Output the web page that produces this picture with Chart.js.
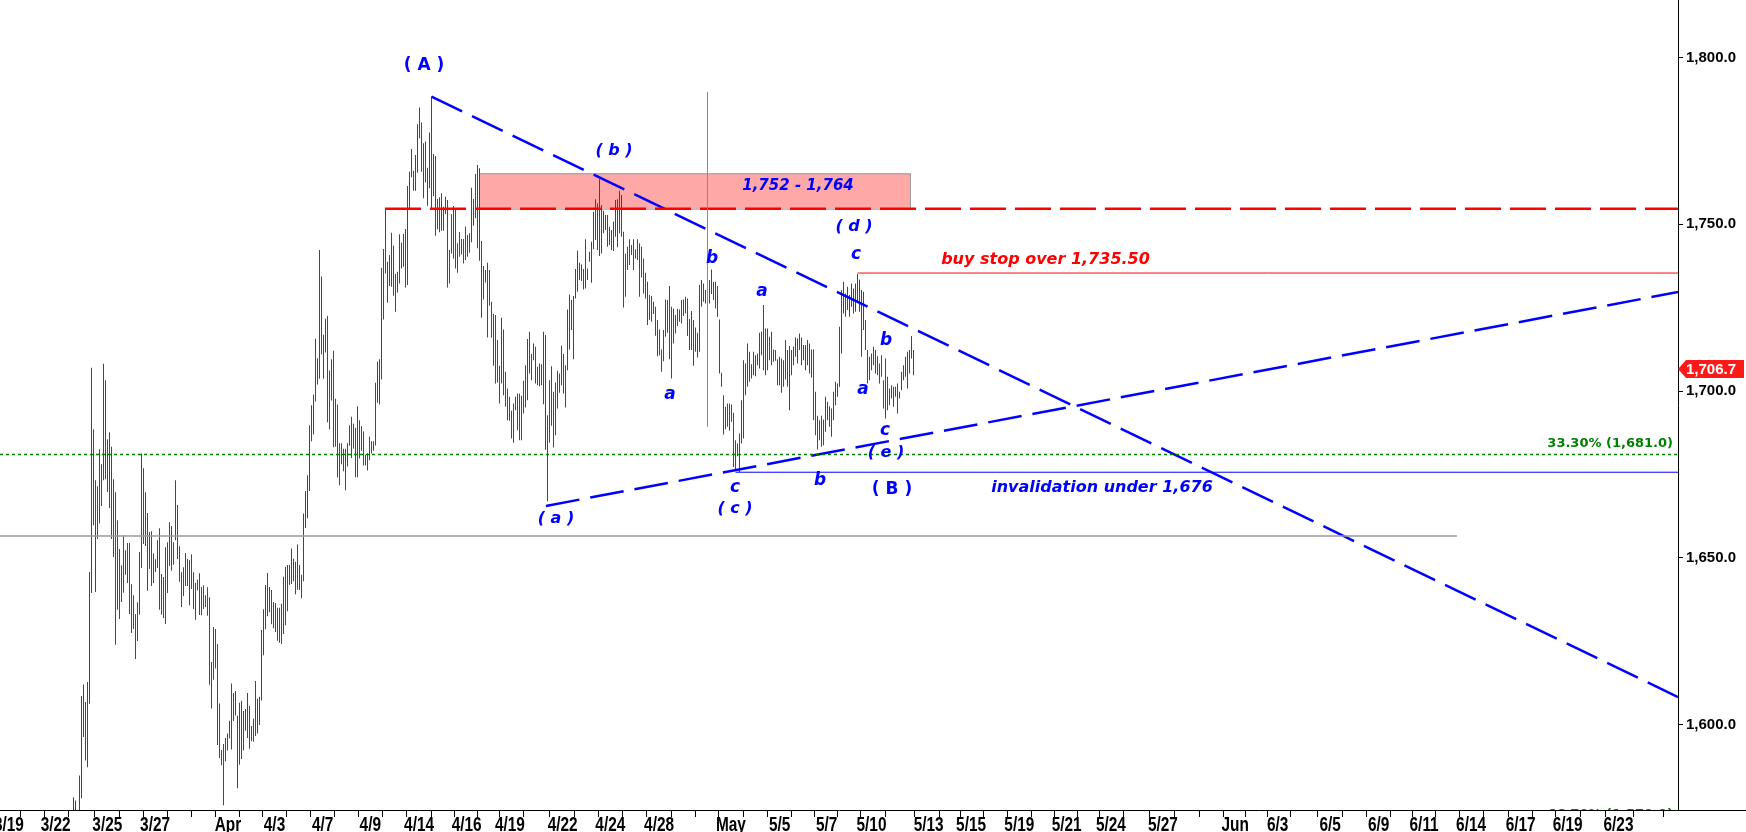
<!DOCTYPE html>
<html>
<head>
<meta charset="utf-8">
<script src="https://cdn.jsdelivr.net/npm/chart.js@4.4.1/dist/chart.umd.min.js"></script>
<style>
html, body { margin: 0; padding: 0; background: #fff; }
</style>
</head>
<body>
<canvas id="chart" width="1746" height="832"></canvas>
<script>
// bar highs / lows, one bar per 2h session
const highs = [
  1578.3,1577.3,1574.0,1584.8,1608.6,1612.1,1606.8,1612.8,1645.8,1707.0,
  1688.6,1673.3,1671.5,1682.6,1678.1,1708.2,1703.3,1685.6,1687.7,1683.3,
  1673.6,1669.7,1661.3,1652.7,1647.8,1656.8,1652.3,1654.5,1654.5,1642.1,
  1638.8,1633.2,1636.7,1651.8,1681.3,1676.9,1669.7,1663.5,1657.8,1658.0,
  1651.3,1649.6,1655.3,1658.9,1645.2,1644.3,1653.2,1654.7,1660.7,1659.6,
  1654.7,1673.3,1665.9,1653.5,1645.7,1647.2,1651.5,1649.7,1649.3,1651.1,
  1645.7,1642.6,1643.5,1645.4,1641.3,1641.8,1638.8,1641.2,1638.2,
  1618.8,1629.3,1628.7,1624.2,1606.4,1592.4,1594.2,1596.0,1597.4,1601.2,1612.4,
  1609.5,1610.1,1602.7,1606.6,1607.2,1604.1,1604.7,1609.5,1605.6,1599.6,1601.9,1613.1,1607.8,1608.4,
  1628.4,1634.6,1641.9,1645.5,1641.3,1640.4,1636.8,1636.5,1635.1,1635.1,1636.3,1644.4,1647.3,1647.9,1647.9,1652.8,
  1649.8,1648.9,1654.0,1647.9,1645.0,1663.3,1670.1,1674.8,1689.8,1695.8,1698.9,1715.7,1709.9,1742.3,1734.4,1716.9,1721.7,
  1722.5,1706.2,1709.6,1712.1,1697.7,1696.0,1684.4,1684.4,1682.7,1682.7,1684.4,1689.8,1692.3,1690.2,
  1689.0,1695.5,1691.3,1689.5,1687.9,1680.9,1681.4,1686.4,1685.0,1685.0,
  1702.5,1708.8,1709.6,1737.0,1742.6,1754.3,1738.8,1740.8,1747.5,1743.6,
  1735.1,1735.8,1747.0,1744.5,1747.1,1748.6,1761.5,1765.8,1772.6,1766.1,
  1770.8,1780.0,1785.0,1780.5,1774.3,1774.8,1767.0,1777.5,1788.3,1771.1,
  1770.5,1757.6,1758.1,1759.3,1755.3,1758.3,1757.3,1742.3,1753.0,1755.5,1754.5,1744.3,1747.7,1745.6,1745.6,1749.3,1746.8,1747.3,
  1761.0,1757.6,1765.1,1767.8,1766.8,
  1745.0,1737.5,1736.3,1738.5,1736.3,1726.8,1723.1,1722.8,1715.3,1707.6,
  1722.0,1718.5,1705.8,1700.8,1698.3,1694.1,1696.3,1698.3,1699.3,1699.3,1698.6,1703.1,
  1707.8,1715.6,1717.8,1711.1,1714.3,1713.3,1707.3,1708.3,1708.1,1717.8,1716.8,
  1692.8,1703.3,1707.5,1699.8,1702.6,1706.1,
  1705.3,1713.6,1711.1,1707.8,1724.5,1729.0,1727.3,1728.5,1736.6,1742.1,
  1738.5,1738.0,1736.6,1745.5,1736.8,1741.8,1744.8,1753.8,1757.5,1756.3,
  1763.5,1755.8,1754.1,1752.8,1752.8,1749.3,1748.3,1750.8,1757.3,1757.5,1760.1,1758.8,
  1747.8,1741.3,1743.3,1745.5,1743.8,1745.5,1742.5,1745.5,1744.3,1743.3,1739.8,
  1735.5,1732.8,1728.8,1728.5,1726.8,1725.3,1721.3,1718.5,1712.5,1718.3,1727.5,1727.3,1731.5,1725.3,1724.8,1722.8,1724.6,1724.5,
  1727.3,1727.5,1728.3,1727.8,1721.6,1724.0,1721.3,1719.1,1717.5,1731.8,1733.3,1732.3,1730.3,1729.8,1733.3,1736.5,1732.8,1732.8,1731.5,
  1721.5,1705.5,1698.8,1695.3,1696.3,1696.3,1696.0,1693.5,1685.3,1684.3,1687.3,
  1697.3,1709.3,1708.3,1714.3,1711.8,1708.1,1711.8,1710.8,1711.3,1717.5,1717.8,1725.8,1718.8,1718.8,1716.3,1717.8,1712.5,1712.3,
  1709.6,1710.3,1709.8,1709.3,1715.3,1712.3,1713.5,
  1712.3,1713.3,1716.1,1715.8,1717.3,1716.1,1713.8,1713.8,1715.3,1714.3,1712.5,
  1712.5,1699.8,1692.6,1691.3,1692.6,1691.5,1698.3,1696.8,1695.5,1694.8,
  1699.8,1702.8,1702.3,1719.3,1730.3,1732.8,1729.3,1731.3,1728.8,1732.3,1730.8,1732.3,1735.1,1733.5,1730.3,1729.8,
  1721.3,1712.3,1710.3,1711.3,1713.3,1712.3,1710.5,1708.3,1710.8,1703.3,1709.8,1704.3,1700.8,1701.8,1701.3,1701.3,1702.3,1699.8,
  1705.8,1707.8,1710.3,1711.8,1712.3,1716.5,1712.3
]

const lows = [
  1572.0,1572.0,1566.0,1571.0,1578.0,1596.3,1589.3,1587.3,1606.3,1639.5,
  1659.8,1639.8,1655.7,1660.3,1665.6,1673.3,1673.6,1669.8,1665.0,1655.7,
  1650.3,1624.0,1634.5,1631.7,1636.8,1639.6,1645.0,1642.5,1633.2,1627.5,
  1628.7,1619.7,1625.1,1633.0,1647.0,1654.2,1653.6,1640.2,1646.7,1641.6,
  1642.5,1645.8,1647.0,1634.5,1633.0,1632.0,1630.2,1639.5,1647.6,1646.2,
  1648.0,1655.3,1649.7,1642.9,1635.3,1638.6,1641.6,1641.6,1635.8,1640.7,
  1634.7,1631.5,1640.3,1632.9,1632.8,1634.7,1635.3,1632.7,1612.0,
  1604.9,1613.5,1616.9,1593.9,1590.0,1587.9,1575.9,1589.1,1592.3,1595.9,1592.6,
  1601.1,1602.8,1581.0,1588.0,1589.7,1592.3,1598.2,1596.0,1592.8,1595.1,1594.9,1596.6,1597.4,1599.9,
  1607.3,1620.8,1628.6,1632.5,1633.7,1630.1,1628.9,1627.8,1625.2,1624.6,1624.2,1627.2,1629.8,1634.0,1641.9,1642.2,
  1643.0,1639.1,1640.5,1640.4,1637.9,1643.0,1659.0,1661.9,1670.1,1685.0,1687.0,1696.9,1702.0,1703.7,1711.0,1703.7,1711.6,
  1690.7,1688.6,1697.2,1683.2,1683.3,1674.2,1671.8,1678.1,1676.0,1670.3,1677.4,1683.6,1680.0,1682.8,
  1674.2,1674.2,1679.8,1682.1,1677.7,1677.7,1676.2,1679.3,1681.3,1682.1,
  1683.7,1696.5,1696.0,1703.5,1721.5,1735.3,1726.5,1731.5,1731.3,1728.6,
  1723.8,1729.6,1732.3,1736.8,1737.3,1731.1,1731.8,1754.6,1764.1,1760.1,
  1760.1,1765.5,1775.8,1765.8,1757.8,1762.6,1755.6,1760.8,1754.8,1758.5,
  1746.6,1748.5,1747.6,1748.1,1748.1,1753.1,1731.1,1732.3,1741.3,1739.8,1736.8,1735.5,1740.3,1741.0,1738.3,1739.3,1740.3,1741.5,
  1744.6,1749.6,1751.8,1742.8,1739.1,
  1722.0,1727.5,1732.6,1716.1,1725.6,1716.0,1707.6,1702.3,1702.6,1696.3,
  1702.3,1698.8,1695.3,1691.3,1691.1,1685.8,1684.5,1694.3,1688.3,1685.3,1685.3,1693.3,
  1695.1,1697.3,1705.3,1703.3,1709.3,1702.3,1701.8,1701.5,1701.8,1696.1,1682.4,
  1667.0,1684.5,1689.6,1683.1,1686.8,1694.8,
  1699.5,1701.8,1699.3,1695.1,1706.3,1712.5,1718.3,1709.6,1727.8,1729.8,
  1733.3,1733.0,1730.5,1730.8,1733.3,1738.8,1732.5,1742.5,1745.3,1742.3,
  1740.5,1741.3,1747.3,1748.3,1743.3,1743.8,1742.3,1742.0,1746.3,1743.1,1747.3,1746.3,
  1725.1,1728.3,1736.3,1737.8,1740.8,1736.3,1739.8,1739.3,1728.3,1734.1,1729.3,
  1727.8,1719.8,1721.3,1720.8,1723.1,1716.6,1710.5,1710.8,1705.8,1709.0,1716.3,1717.5,1709.6,1703.8,1714.3,1717.3,1719.5,1720.8,
  1720.3,1722.5,1723.3,1716.5,1712.3,1712.3,1707.6,1711.8,1710.1,1711.8,1725.3,1726.8,1726.3,1723.3,1726.3,1729.1,1727.3,1724.8,1722.3,
  1705.3,1701.3,1687.0,1688.6,1689.3,1688.1,1690.8,1677.3,1676.3,1680.5,1675.8,
  1684.3,1685.8,1698.8,1701.3,1702.8,1703.8,1704.8,1704.5,1707.8,1706.8,1710.8,1706.3,1704.8,1706.3,1709.3,1707.8,1708.8,1709.1,
  1701.8,1701.8,1699.5,1701.3,1703.5,1701.3,1694.3,
  1704.8,1707.8,1710.3,1708.3,1712.3,1707.8,1709.3,1706.3,1707.8,1705.3,1704.1,
  1691.3,1686.8,1682.5,1685.3,1683.3,1683.8,1687.8,1691.3,1689.3,1686.3,
  1691.3,1695.8,1698.3,1701.3,1711.3,1723.3,1722.3,1724.3,1722.3,1725.3,1723.3,1723.8,1726.8,1723.8,1710.3,1718.3,
  1712.3,1702.3,1703.3,1706.3,1707.8,1705.3,1704.8,1702.3,1704.3,1694.8,1691.8,1694.3,1695.8,1697.8,1695.3,1698.3,1693.3,1697.8,
  1700.3,1703.3,1704.3,1700.8,1705.3,1709.8,1704.8
]

// up (G) / down (R) bars, as runs
const barRuns = [
  'G2','R1','G18','R12','G12','R6','G2','R16',
  'R11','G47','R14',
  'R10','G30','R18','G5','R10',
  'R12','G11','R6','G32','R11',
  'R18','G19','R11','G18','R7',
  'G11','R10','G16','R18','G7'
]

const lastPrice = 1706.7
const priceTicks = [1600, 1650, 1700, 1750, 1800]

// date labels and where they sit, in bar units
const dateLabels = ['3/19','3/22','3/25','3/27','Apr','4/3','4/7','4/9','4/14','4/16','4/19','4/22','4/24','4/28',
  'May','5/5','5/7','5/10','5/13','5/15','5/19','5/21','5/24','5/27','Jun','6/3','6/5','6/9','6/11','6/14','6/17','6/19','6/23']
const datePos = [-32.3,-8.9,16.9,40.8,77.2,100.5,124.6,148.4,172.8,196.6,218.2,244.6,268.4,292.8,
  328.7,353.1,376.6,399.0,427.6,448.8,472.9,496.6,518.7,544.7,580.8,602.1,628.3,652.6,675.3,698.8,723.6,747.1,772.5]

// trend lines and levels  [barIndex, price]
const downTrend = [[179, 1788.3], [802.25, 1608.3]]
const upTrend = [[236.25, 1665.6], [802.25, 1729.7]]
const resistance = [155.75, 1754.7]
const buyStop = [392, 1735.4]
const invalidation = [331, 1675.7]
const fib33 = 1681.0
const fib67 = 1570.0
const grayLevel = [691.75, 1656.6]
const grayMark = [317, 1689.3, 1789.7]
const zoneX = [202.75, 418.25]
const zoneY = [1754.7, 1765.3]

const waveText = ['( A )','( b )','( d )','b','a','c','b','a','a','c','( e )','( B )','b','c','( c )','( a )']
const waveX = [175.25, 270.25, 390.25, 319.25, 344.25, 391.25, 406.25, 298.25, 394.75, 405.75, 406.25, 409.25, 373.25, 330.75, 330.75, 241.25]
const waveY = [1797.5, 1772.0, 1749.2, 1739.6, 1729.7, 1740.9, 1715.3, 1699.1, 1700.6, 1688.3, 1681.4, 1670.6, 1673.3, 1671.2, 1664.7, 1661.8]

const xMin = -36.75, xMax = 802.25
const yMin = 1574.45, yMax = 1817.25

const colors = []
barRuns.forEach(r => {
  const n = parseInt(r.slice(1))
  for (let i = 0; i < n; i++) colors.push(r[0] === 'G' ? '#007800' : '#f00000')
})
const bars = highs.map((h, i) => ({ x: i, y: [lows[i], h] }))

// x ticks: one at each label plus the days in between
const xTicks = []
datePos.forEach((p, i) => {
  xTicks.push(p)
  const next = i < datePos.length - 1 ? datePos[i + 1] : xMax
  const n = Math.round((next - p) / 12) - 1
  for (let k = 1; k <= n; k++) xTicks.push(p + (next - p) * k / (n + 1))
})

function seg(a, b, color, width, dash) {
  return {
    type: 'line',
    data: [{ x: a[0], y: a[1] }, { x: b[0], y: b[1] }],
    borderColor: color,
    borderWidth: width,
    borderDash: dash || [],
    borderCapStyle: 'butt',
    pointRadius: 0,
    fill: false,
    tension: 0,
    order: 1
  }
}

const FONT = '"DejaVu Sans", Verdana, sans-serif'
const AXIS_FONT = '"Liberation Sans", Arial, sans-serif'

const overlay = {
  id: 'overlay',
  beforeDatasetsDraw(chart) {
    const { ctx, scales: { x, y } } = chart
    // keep the 1px bars on whole pixels
    chart.getDatasetMeta(0).data.forEach(b => { b.x = Math.floor(b.x) + 0.5; b.width = 1 })
    const x0 = x.getPixelForValue(zoneX[0]), x1 = x.getPixelForValue(zoneX[1])
    const y0 = y.getPixelForValue(zoneY[1]), y1 = y.getPixelForValue(zoneY[0])
    ctx.save()
    ctx.fillStyle = '#ffa8a8'
    ctx.fillRect(x0, y0, x1 - x0, y1 - y0)
    ctx.strokeStyle = '#9a9a9a'
    ctx.lineWidth = 1
    ctx.strokeRect(x0 + 0.5, y0 + 0.5, x1 - x0, y1 - y0)
    ctx.restore()
  },
  afterDatasetsDraw(chart) {
    const { ctx, chartArea, scales: { x, y } } = chart
    ctx.save()
    ctx.beginPath()
    ctx.rect(chartArea.left, chartArea.top, chartArea.right - chartArea.left, chartArea.bottom - chartArea.top)
    ctx.clip()
    ctx.textAlign = 'center'
    ctx.textBaseline = 'middle'
    waveText.forEach((t, i) => {
      const upper = /[A-Z]/.test(t)
      ctx.font = upper ? 'bold 17px ' + FONT : (t.length > 1 ? 'italic bold 16px ' + FONT : 'italic bold 17px ' + FONT)
      ctx.fillStyle = '#0000ff'
      ctx.fillText(t, x.getPixelForValue(waveX[i]), y.getPixelForValue(waveY[i]))
    })
    ctx.font = 'italic bold 15px ' + FONT
    ctx.fillStyle = '#0000ff'
    ctx.fillText('1,752 - 1,764', x.getPixelForValue(362.25), y.getPixelForValue(1761.6))
    ctx.font = 'italic bold 16px ' + FONT
    ctx.fillStyle = '#ff0000'
    ctx.fillText('buy stop over 1,735.50', x.getPixelForValue(486), y.getPixelForValue(1739.4))
    ctx.fillStyle = '#0000ff'
    ctx.fillText('invalidation under 1,676', x.getPixelForValue(514.25), y.getPixelForValue(1671.0))
    ctx.font = 'bold 13px ' + FONT
    ctx.fillStyle = '#008000'
    ctx.textAlign = 'right'
    ctx.fillText('33.30% (1,681.0)', x.getPixelForValue(799.75), y.getPixelForValue(fib33 + 3.2))
    ctx.fillText('66.70% (1,570.0)', x.getPixelForValue(799.75), y.getPixelForValue(fib67 + 3.2))
    ctx.restore()
  },
  afterDraw(chart) {
    const { ctx, chartArea, scales: { x, y } } = chart
    ctx.save()
    // bottom axis line runs under the price scale too
    ctx.strokeStyle = '#000'
    ctx.lineWidth = 1
    ctx.beginPath()
    ctx.moveTo(chartArea.right, chartArea.bottom + 0.5)
    ctx.lineTo(chart.width, chartArea.bottom + 0.5)
    ctx.stroke()
    // date labels, narrow bold
    ctx.fillStyle = '#000'
    ctx.font = 'bold 20px ' + AXIS_FONT
    ctx.textAlign = 'center'
    ctx.textBaseline = 'alphabetic'
    dateLabels.forEach((t, i) => {
      ctx.save()
      ctx.translate(x.getPixelForValue(datePos[i]), chartArea.bottom + 20.5)
      ctx.scale(0.77, 1)
      ctx.fillText(t, 0, 0)
      ctx.restore()
    })
    // last price tag
    const py = Math.round(y.getPixelForValue(lastPrice))
    const left = chartArea.right
    ctx.fillStyle = '#ff1a1a'
    ctx.beginPath()
    ctx.moveTo(left, py)
    ctx.lineTo(left + 8, py - 9)
    ctx.lineTo(chart.width - 2, py - 9)
    ctx.lineTo(chart.width - 2, py + 9)
    ctx.lineTo(left + 8, py + 9)
    ctx.closePath()
    ctx.fill()
    ctx.fillStyle = '#fff'
    ctx.font = 'bold 15px ' + AXIS_FONT
    ctx.textAlign = 'left'
    ctx.textBaseline = 'middle'
    ctx.fillText(lastPrice.toLocaleString('en-US', { minimumFractionDigits: 1 }), left + 8, py + 1)
    ctx.restore()
  }
}

new Chart(document.getElementById('chart'), {
  type: 'bar',
  data: {
    datasets: [
      {
        type: 'bar',
        data: bars,
        backgroundColor: colors,
        barThickness: 1,
        borderWidth: 0,
        inflateAmount: 0,
        order: 10
      },
      seg([xMin, fib33], [xMax, fib33], '#008000', 1.5, [3, 3]),
      seg([xMin, fib67], [xMax, fib67], '#008000', 1.5, [3, 3]),
      seg([xMin, grayLevel[1]], grayLevel, '#9a9a9a', 1.5),
      seg([grayMark[0], grayMark[1]], [grayMark[0], grayMark[2]], '#8a8a8a', 1),
      seg(resistance, [xMax, resistance[1]], '#ff0000', 2.5, [36, 9]),
      seg(buyStop, [xMax, buyStop[1]], '#ff0000', 1),
      seg(invalidation, [xMax, invalidation[1]], '#0000ff', 1),
      seg(downTrend[0], downTrend[1], '#0000ff', 2.5, [34, 11]),
      seg(upTrend[0], upTrend[1], '#0000ff', 2.5, [34, 11])
    ]
  },
  options: {
    responsive: false,
    animation: false,
    devicePixelRatio: 1,
    layout: { padding: 0 },
    plugins: {
      legend: { display: false },
      tooltip: { enabled: false }
    },
    scales: {
      x: {
        type: 'linear',
        min: xMin,
        max: xMax,
        offset: false,
        afterBuildTicks: s => { s.ticks = xTicks.map(v => ({ value: v })) },
        afterFit: s => { s.height = 22; s.paddingLeft = 0; s.paddingRight = 0 },
        ticks: { display: false, autoSkip: false },
        grid: { drawOnChartArea: false, drawTicks: true, tickLength: 7, color: '#000', lineWidth: 1 },
        border: { display: true, color: '#000', width: 1 }
      },
      y: {
        position: 'right',
        min: yMin,
        max: yMax,
        afterBuildTicks: s => { s.ticks = priceTicks.map(v => ({ value: v })) },
        afterFit: s => { s.width = 68; s.paddingTop = 0; s.paddingBottom = 0 },
        ticks: {
          color: '#000',
          padding: 3,
          font: { family: AXIS_FONT, size: 15, weight: 'bold' },
          callback: v => v.toLocaleString('en-US', { minimumFractionDigits: 1, maximumFractionDigits: 1 })
        },
        grid: { drawOnChartArea: false, drawTicks: true, tickLength: 5, color: '#000', lineWidth: 1 },
        border: { display: true, color: '#000', width: 1 }
      }
    }
  },
  plugins: [overlay]
})
</script>
</body>
</html>
